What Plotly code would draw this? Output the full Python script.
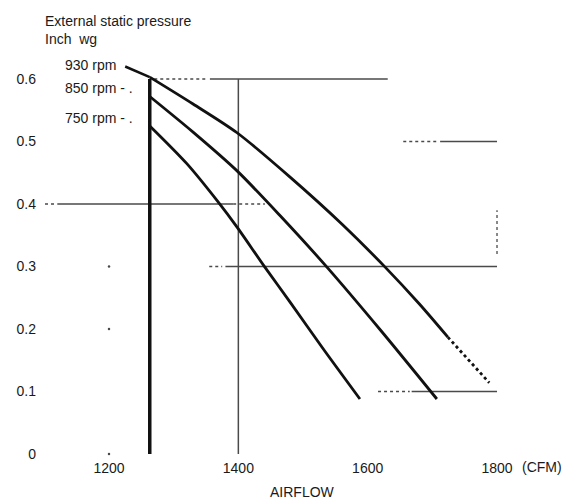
import plotly.graph_objects as go

# fan curves, airflow (CFM) vs external static pressure (inch wg)
cfm_930 = [1263, 1330, 1398, 1480, 1560, 1627, 1680, 1724]
p_930 = [0.603, 0.560, 0.514, 0.443, 0.368, 0.299, 0.240, 0.187]
cfm_930_lead = [1225, 1263]
p_930_lead = [0.620, 0.603]
cfm_930_ext = [1724, 1788]
p_930_ext = [0.187, 0.114]

cfm_850 = [1263, 1330, 1398, 1464, 1537, 1620, 1707]
p_850 = [0.572, 0.515, 0.453, 0.382, 0.299, 0.198, 0.088]

cfm_750 = [1263, 1320, 1369, 1398, 1441, 1480, 1530, 1588]
p_750 = [0.525, 0.465, 0.403, 0.363, 0.299, 0.243, 0.170, 0.088]

curve_labels = ["930 rpm", "850 rpm - .", "750 rpm - ."]
curve_label_y = [0.622, 0.586, 0.538]

# partial grid as printed on the sheet
grid_solid_y = [0.6, 0.5, 0.4, 0.3, 0.1]
grid_solid_x0 = [1356, 1712, 1120, 1380, 1668]
grid_solid_x1 = [1631, 1800, 1392, 1800, 1800]
grid_dot_y = [0.6, 0.5, 0.4, 0.4, 0.3, 0.1]
grid_dot_x0 = [1270, 1655, 1101, 1392, 1355, 1616]
grid_dot_x1 = [1350, 1706, 1118, 1441, 1375, 1665]
speck_x = [1200, 1200, 1200]
speck_y = [0.3, 0.2, 0.0]

x_ticks = [1200, 1400, 1600, 1800]
y_ticks = [0, 0.1, 0.2, 0.3, 0.4, 0.5, 0.6]
y_tick_text = ["0", "0.1", "0.2", "0.3", "0.4", "0.5", "0.6"]

ink = "#111"
grid_ink = "#4a4a4a"
font = dict(family="Liberation Sans, Arial, sans-serif", size=14, color="#1a1a1a")


def segments(ys, x0s, x1s):
    xs, yy = [], []
    for y, a, b in zip(ys, x0s, x1s):
        xs += [a, b, None]
        yy += [y, y, None]
    return xs, yy


fig = go.Figure()

gx, gy = segments(grid_solid_y, grid_solid_x0, grid_solid_x1)
fig.add_trace(go.Scatter(x=gx, y=gy, mode="lines", line=dict(color=grid_ink, width=1.5),
                         cliponaxis=False, hoverinfo="skip"))
dx, dy = segments(grid_dot_y, grid_dot_x0, grid_dot_x1)
fig.add_trace(go.Scatter(x=dx, y=dy, mode="lines", line=dict(color=grid_ink, width=1.3, dash="dot"),
                         cliponaxis=False, hoverinfo="skip"))
# vertical rules
fig.add_trace(go.Scatter(x=[1400, 1400], y=[0, 0.6], mode="lines",
                         line=dict(color=grid_ink, width=1.5), cliponaxis=False))
fig.add_trace(go.Scatter(x=[1800, 1800], y=[0.32, 0.39], mode="lines",
                         line=dict(color=grid_ink, width=1.3, dash="dot"), cliponaxis=False))
fig.add_trace(go.Scatter(x=[1263, 1263], y=[0, 0.6], mode="lines",
                         line=dict(color=ink, width=3.5), cliponaxis=False))
fig.add_trace(go.Scatter(x=speck_x, y=speck_y, mode="markers",
                         marker=dict(color=grid_ink, size=2.5), cliponaxis=False))

for xs, ys in [(cfm_930, p_930), (cfm_850, p_850), (cfm_750, p_750)]:
    fig.add_trace(go.Scatter(x=xs, y=ys, mode="lines",
                             line=dict(color=ink, width=2.8, shape="spline", smoothing=0.8),
                             cliponaxis=False))
fig.add_trace(go.Scatter(x=cfm_930_lead, y=p_930_lead, mode="lines",
                         line=dict(color=ink, width=2.5), cliponaxis=False))
fig.add_trace(go.Scatter(x=cfm_930_ext, y=p_930_ext, mode="lines",
                         line=dict(color=ink, width=2.8, dash="dot"), cliponaxis=False))

for txt, y in zip(curve_labels, curve_label_y):
    fig.add_annotation(x=1129, y=y, text=txt, showarrow=False, xanchor="left", yanchor="middle",
                       font=font)

fig.add_annotation(xref="paper", yref="paper", x=-0.004, y=0.975, text="External static pressure",
                   showarrow=False, xanchor="left", yanchor="middle", font=font)
fig.add_annotation(xref="paper", yref="paper", x=-0.004, y=0.935, text="Inch  wg",
                   showarrow=False, xanchor="left", yanchor="middle", font=font)
fig.add_annotation(xref="paper", yref="paper", x=0.499, y=-0.0856, text="AIRFLOW",
                   showarrow=False, xanchor="center", yanchor="middle", font=font)
fig.add_annotation(xref="paper", yref="paper", x=0.919, y=-0.0293, text="(CFM)",
                   showarrow=False, xanchor="left", yanchor="middle", font=font)

fig.update_layout(
    width=564, height=494,
    margin=dict(l=37, r=10, t=2, b=48),
    paper_bgcolor="white", plot_bgcolor="white",
    showlegend=False,
    font=font,
    xaxis=dict(range=[1101, 1900.5], tickvals=x_ticks, showgrid=False, zeroline=False,
               showline=False, ticks="", ticklabelstandoff=4, fixedrange=True),
    yaxis=dict(range=[0, 0.7104], tickvals=y_ticks, ticktext=y_tick_text, showgrid=False,
               zeroline=False, showline=False, ticks="", ticklabelstandoff=8, fixedrange=True),
)

fig.write_html("out.html")
